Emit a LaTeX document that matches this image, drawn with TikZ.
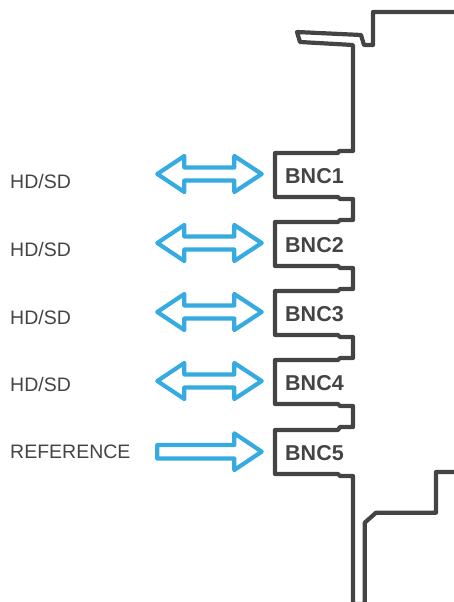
\documentclass[tikz,border=0pt]{standalone}
\usepackage{fontspec}
\setmainfont{Liberation Sans}
\definecolor{panelgrey}{HTML}{444444}
\definecolor{arrowblue}{HTML}{36ABE2}
\tikzset{
    panel/.style = {draw = panelgrey, line width = 4.2pt, line join = round},
    signal/.style = {draw = arrowblue, line width = 4.2pt, line join = round},
    portlabel/.style = {text = panelgrey, font = \fontsize{21.5}{21.5}\selectfont\bfseries, anchor = west, inner sep = 0pt},
    signallabel/.style = {text = panelgrey, font = \fontsize{19.5}{19.5}\selectfont, anchor = west, inner sep = 0pt}
}
\begin{document}
\begin{tikzpicture}[x = 1pt, y = -1pt]
    \useasboundingbox (0,0) rectangle (453,602);
    % outline of the card edge
    \draw [panel] (455,12) -- (373,12) -- (373,45) -- (364,45) -- (361,35) -- (297,32) -- (300,42) -- (353,45) -- (353,151) -- (339,151) -- (338,153) -- (275,153) -- (275,197) -- (338,197) -- (340,199) -- (353,199)
        -- (353,220) -- (340,220) -- (338,222) -- (275,222) -- (275,266) -- (338,266) -- (340,268) -- (353,268)
        -- (353,289) -- (340,289) -- (338,291) -- (275,291) -- (275,335) -- (338,335) -- (340,337) -- (353,337)
        -- (353,358) -- (340,358) -- (338,360) -- (275,360) -- (275,404) -- (338,404) -- (340,406) -- (353,406)
        -- (353,427) -- (340,427) -- (338,430) -- (275,430) -- (275,474) -- (338,474) -- (340,476) -- (353,476)
        -- (353,604) -- (364.7,604) -- (364.7,522.7) -- (376,512.7) -- (436,512.7) -- (436,472) -- (455,472);
    % ports and their signals
    \foreach \n/\y/\t in {1/175/182, 2/244/250, 3/313/317.5, 4/382/385} {
        \node [portlabel] (bnc\n) at (285,\y+1) {BNC\n};
        \node [signallabel] (hdsd\n) at (10,\t) {HD/SD};
        \draw [signal] (157.3,\y-1) -- (184.3,\y-19) -- (184.3,\y-7.5) -- (234.3,\y-7.5) -- (234.3,\y-19) -- (261.7,\y-1) -- (234.3,\y+17) -- (234.3,\y+5.5) -- (184.3,\y+5.5) -- (184.3,\y+17) -- cycle;
    }
    \node [portlabel] (bnc5) at (285,453) {BNC5};
    \node [signallabel] (refin) at (10,452) {REFERENCE};
    \draw [signal] (157.3,445) -- (234.3,445) -- (234.3,433.3) -- (261.7,451.7) -- (234.3,470) -- (234.3,458.5) -- (157.3,458.5) -- cycle;
\end{tikzpicture}
\end{document}
